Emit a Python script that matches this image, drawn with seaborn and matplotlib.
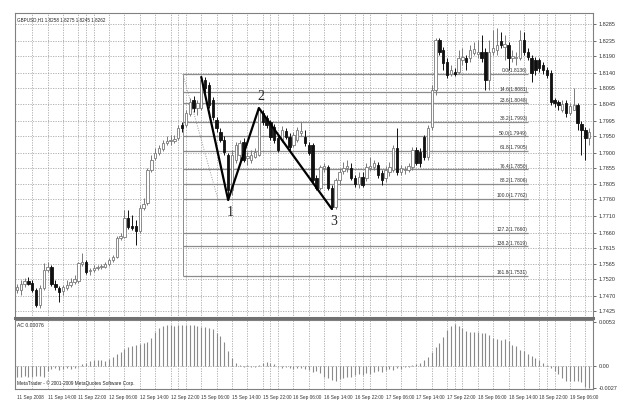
import numpy as np
import pandas as pd
import matplotlib.pyplot as plt
import seaborn as sns

# GBPUSD H1 candles
opens = [1.7488, 1.7488, 1.7506, 1.7515, 1.7509, 1.7488, 1.7443, 1.7494, 1.7548, 1.7557,
         1.7506, 1.7494, 1.7485, 1.7494, 1.7503, 1.7512, 1.7515, 1.7566, 1.7572, 1.7545,
         1.7548, 1.7554, 1.7557, 1.7557, 1.7566, 1.7578, 1.7587, 1.7644, 1.7647, 1.7704,
         1.7680, 1.7680, 1.7665, 1.7734, 1.7749, 1.7848, 1.7884, 1.7899, 1.7911, 1.7929,
         1.7935, 1.7935, 1.7944, 1.7983, 1.7983, 1.8016, 1.8058, 1.8034, 1.8034, 1.8118,
         1.8103, 1.8058, 1.7998, 1.7962, 1.7938, 1.7893, 1.7788, 1.7878, 1.7893, 1.7932,
         1.7884, 1.7878, 1.7887, 1.7893, 1.8019, 1.8004, 1.7992, 1.7977, 1.7944, 1.7938,
         1.7965, 1.7947, 1.7923, 1.7938, 1.7959, 1.7947, 1.7923, 1.7923, 1.7824, 1.7794,
         1.7854, 1.7857, 1.7794, 1.7737, 1.7818, 1.7845, 1.7854, 1.7854, 1.7824, 1.7806,
         1.7827, 1.7824, 1.7854, 1.7857, 1.7863, 1.7839, 1.7824, 1.7842, 1.7848, 1.7914,
         1.7842, 1.7848, 1.7848, 1.7857, 1.7908, 1.7902, 1.7947, 1.7887, 1.7977, 1.8088,
         1.8238, 1.8208, 1.8172, 1.8136, 1.8142, 1.8142, 1.8178, 1.8184, 1.8184, 1.8199,
         1.8196, 1.8202, 1.8202, 1.8118, 1.8202, 1.8208, 1.8235, 1.8217, 1.8223, 1.8184,
         1.8184, 1.8184, 1.8238, 1.8202, 1.8184, 1.8178, 1.8178, 1.8163, 1.8148, 1.8139,
         1.8058, 1.8052, 1.8028, 1.8049, 1.8019, 1.8028, 1.8043, 1.7986, 1.7968, 1.7944]
highs = [1.7506, 1.7518, 1.7524, 1.7527, 1.7518, 1.7494, 1.7503, 1.7569, 1.7572, 1.7563,
         1.7518, 1.7500, 1.7503, 1.7518, 1.7524, 1.7533, 1.7572, 1.7599, 1.7578, 1.7554,
         1.7563, 1.7563, 1.7566, 1.7572, 1.7584, 1.7593, 1.7650, 1.7659, 1.7728, 1.7728,
         1.7713, 1.7698, 1.7743, 1.7764, 1.7854, 1.7893, 1.7914, 1.7923, 1.7938, 1.7950,
         1.7953, 1.7953, 1.7983, 1.7992, 1.8028, 1.8064, 1.8070, 1.8058, 1.8127, 1.8127,
         1.8112, 1.8067, 1.8007, 1.7974, 1.7950, 1.7899, 1.7908, 1.7932, 1.7938, 1.7944,
         1.7902, 1.7908, 1.7914, 1.8034, 1.8028, 1.8013, 1.7998, 1.7986, 1.7953, 1.7980,
         1.7974, 1.7959, 1.7962, 1.7977, 1.7992, 1.7968, 1.7932, 1.7929, 1.7833, 1.7863,
         1.7869, 1.7863, 1.7803, 1.7824, 1.7854, 1.7872, 1.7878, 1.7869, 1.7833, 1.7842,
         1.7842, 1.7869, 1.7887, 1.7878, 1.7872, 1.7848, 1.7860, 1.7872, 1.7923, 1.7974,
         1.7863, 1.7860, 1.7869, 1.7917, 1.7917, 1.7914, 1.7953, 1.7983, 1.8103, 1.8244,
         1.8244, 1.8217, 1.8184, 1.8163, 1.8154, 1.8208, 1.8214, 1.8193, 1.8223, 1.8232,
         1.8238, 1.8253, 1.8214, 1.8238, 1.8268, 1.8274, 1.8262, 1.8253, 1.8232, 1.8208,
         1.8202, 1.8268, 1.8262, 1.8214, 1.8193, 1.8187, 1.8184, 1.8172, 1.8157, 1.8148,
         1.8064, 1.8058, 1.8058, 1.8058, 1.8049, 1.8094, 1.8049, 1.7995, 1.7977, 1.7974]
lows = [1.7479, 1.7473, 1.7497, 1.7503, 1.7482, 1.7437, 1.7434, 1.7488, 1.7542, 1.7500,
        1.7488, 1.7452, 1.7473, 1.7488, 1.7497, 1.7506, 1.7509, 1.7560, 1.7536, 1.7533,
        1.7542, 1.7548, 1.7551, 1.7554, 1.7560, 1.7572, 1.7584, 1.7638, 1.7644, 1.7671,
        1.7668, 1.7623, 1.7659, 1.7728, 1.7743, 1.7842, 1.7878, 1.7893, 1.7905, 1.7923,
        1.7923, 1.7929, 1.7938, 1.7962, 1.7977, 1.8010, 1.8022, 1.8013, 1.8028, 1.8082,
        1.8034, 1.7998, 1.7962, 1.7932, 1.7893, 1.7758, 1.7773, 1.7869, 1.7878, 1.7872,
        1.7863, 1.7869, 1.7884, 1.7890, 1.7983, 1.7974, 1.7938, 1.7929, 1.7902, 1.7932,
        1.7941, 1.7908, 1.7917, 1.7932, 1.7950, 1.7920, 1.7893, 1.7812, 1.7788, 1.7788,
        1.7842, 1.7788, 1.7731, 1.7731, 1.7803, 1.7836, 1.7842, 1.7818, 1.7797, 1.7794,
        1.7797, 1.7815, 1.7845, 1.7848, 1.7824, 1.7803, 1.7812, 1.7830, 1.7842, 1.7833,
        1.7833, 1.7836, 1.7842, 1.7848, 1.7863, 1.7857, 1.7878, 1.7878, 1.7968, 1.8073,
        1.8193, 1.8148, 1.8124, 1.8130, 1.8130, 1.8136, 1.8163, 1.8148, 1.8172, 1.8193,
        1.8184, 1.8172, 1.8088, 1.8088, 1.8193, 1.8193, 1.8214, 1.8178, 1.8148, 1.8172,
        1.8163, 1.8178, 1.8193, 1.8178, 1.8112, 1.8133, 1.8142, 1.8136, 1.8124, 1.8043,
        1.8037, 1.8028, 1.8022, 1.8007, 1.8013, 1.8028, 1.7968, 1.7893, 1.7878, 1.7923]
closes = [1.7497, 1.7506, 1.7515, 1.7506, 1.7488, 1.7443, 1.7494, 1.7548, 1.7557, 1.7506,
          1.7497, 1.7482, 1.7497, 1.7503, 1.7512, 1.7521, 1.7569, 1.7572, 1.7542, 1.7548,
          1.7554, 1.7557, 1.7560, 1.7566, 1.7578, 1.7587, 1.7644, 1.7650, 1.7704, 1.7677,
          1.7674, 1.7665, 1.7734, 1.7746, 1.7848, 1.7878, 1.7899, 1.7914, 1.7929, 1.7935,
          1.7938, 1.7941, 1.7974, 1.7974, 1.8019, 1.8052, 1.8034, 1.8049, 1.8118, 1.8094,
          1.8043, 1.8007, 1.7974, 1.7938, 1.7902, 1.7788, 1.7893, 1.7923, 1.7929, 1.7878,
          1.7890, 1.7893, 1.7902, 1.8028, 1.7992, 1.7983, 1.7947, 1.7938, 1.7908, 1.7968,
          1.7947, 1.7917, 1.7953, 1.7968, 1.7965, 1.7929, 1.7899, 1.7818, 1.7794, 1.7857,
          1.7860, 1.7794, 1.7737, 1.7818, 1.7842, 1.7854, 1.7860, 1.7824, 1.7806, 1.7827,
          1.7803, 1.7857, 1.7860, 1.7869, 1.7833, 1.7818, 1.7848, 1.7857, 1.7914, 1.7842,
          1.7854, 1.7851, 1.7860, 1.7908, 1.7869, 1.7869, 1.7887, 1.7974, 1.8088, 1.8238,
          1.8202, 1.8169, 1.8133, 1.8148, 1.8136, 1.8184, 1.8187, 1.8172, 1.8208, 1.8211,
          1.8202, 1.8184, 1.8118, 1.8202, 1.8214, 1.8223, 1.8223, 1.8226, 1.8184, 1.8190,
          1.8187, 1.8238, 1.8202, 1.8187, 1.8139, 1.8148, 1.8154, 1.8148, 1.8133, 1.8052,
          1.8049, 1.8043, 1.8046, 1.8019, 1.8040, 1.8043, 1.7989, 1.7968, 1.7944, 1.7962]

# Accelerator Oscillator histogram
ac_values = [-0.00132, -0.00132, -0.0012, -0.00132, -0.00132, -0.0012, -0.0012, -0.00132, -0.0006, -0.00036,
             -0.00024, -0.00048, -0.00036, -0.00024, -0.00036, -0.00024, -0.00012, 0.00024, 0.00036, 0.0006,
             0.00072, 0.00072, 0.00072, 0.0006, 0.00084, 0.00108, 0.00144, 0.00168, 0.00204, 0.00228,
             0.0024, 0.00252, 0.00264, 0.00276, 0.00288, 0.00336, 0.00408, 0.00468, 0.00492, 0.00504,
             0.00504, 0.00492, 0.00504, 0.00504, 0.00504, 0.00504, 0.00504, 0.00492, 0.0048, 0.0048,
             0.00468, 0.00444, 0.00396, 0.0036, 0.00288, 0.0018, 0.00096, 0.00036, 0.00012, -0.00012,
             0.00012, -0.00012, -0.00012, 0.00012, 0.00036, 0.00048, 0.00036, 0.00024, -0.00012, -0.00024,
             -0.00012, -0.00024, -0.00036, -0.00024, -0.00024, -0.00036, -0.00048, -0.00072, -0.0006, -0.00084,
             -0.00132, -0.00156, -0.0018, -0.00192, -0.00168, -0.00156, -0.00144, -0.00132, -0.00108, -0.00096,
             -0.00108, -0.00084, -0.00096, -0.00072, -0.0006, -0.00072, -0.00048, -0.00036, -0.00048, -0.00024,
             -0.00036, -0.00012, -0.00012, 0.00012, 0.00024, 0.00036, 0.00072, 0.00108, 0.00168, 0.00228,
             0.00276, 0.00348, 0.00432, 0.00492, 0.00516, 0.00492, 0.00456, 0.0042, 0.00408, 0.00408,
             0.00408, 0.00396, 0.00396, 0.00372, 0.00336, 0.00324, 0.00312, 0.00324, 0.003, 0.00252,
             0.0024, 0.00192, 0.0018, 0.00144, 0.0012, 0.00096, 0.00072, 0.00036, 0.00012, -0.00024,
             -0.0006, -0.00096, -0.00156, -0.00192, -0.00192, -0.00192, -0.00192, -0.00204, -0.00264, -0.00276]

time_labels = ["11 Sep 2008", "11 Sep 14:00", "11 Sep 22:00", "12 Sep 06:00", "12 Sep 14:00",
               "12 Sep 22:00", "15 Sep 06:00", "15 Sep 14:00", "15 Sep 22:00", "16 Sep 06:00",
               "16 Sep 14:00", "16 Sep 22:00", "17 Sep 06:00", "17 Sep 14:00", "17 Sep 22:00",
               "18 Sep 06:00", "18 Sep 14:00", "18 Sep 22:00", "19 Sep 06:00"]
price_ticks = [1.8285, 1.8235, 1.8190, 1.8140, 1.8095, 1.8045, 1.7995, 1.7950, 1.7900, 1.7855,
               1.7805, 1.7760, 1.7710, 1.7660, 1.7615, 1.7565, 1.7520, 1.7470, 1.7425]
ac_ticks = [0.0053, 0.0, -0.0027]
ac_tick_labels = ["0.0053", "0.00", "-0.0027"]

# Fibonacci retracement (0 at swing high, 100 at swing low)
fib_levels = [0.0, 14.6, 23.6, 38.2, 50.0, 61.8, 76.4, 88.2, 100.0, 127.2, 138.2, 161.8]
fib_high = 1.8136
fib_low = 1.7762
fib_start_bar = 43.2
fib_end_bar = 133
fib_trend_bars = [43.2, 52.3]

# Wave points 1-2-3
wave_bars = [48, 55, 63, 82]
wave_prices = [1.8127, 1.7758, 1.8034, 1.7731]
wave_names = ["", "1", "2", "3"]

df = pd.DataFrame({"open": opens, "high": highs, "low": lows, "close": closes})
df["bar"] = np.arange(len(df))
df["bull"] = df["close"] >= df["open"]

sns.set_style("white")
plt.rcParams['font.family'] = ['Liberation Sans', 'DejaVu Sans']

fig = plt.figure(figsize=(6.26, 4.03), dpi=100)
ax = fig.add_axes([15/626, 85/403, 578/626, 305/403])
ax2 = fig.add_axes([15/626, 14/403, 578/626, 69/403], sharex=ax)

grid_kw = dict(color='#a8a8a8', lw=0.6, ls=(0, (1.5, 1.5)), zorder=0)
grid_bars = list(range(4, 150, 4)) + [18, 42, 66, 90, 114, 138]
for a in (ax, ax2):
    for b in grid_bars:
        a.axvline(b, **grid_kw)
for p in price_ticks:
    ax.axhline(p, **grid_kw)
ax2.axhline(0, **grid_kw)

# Fibonacci lines
fib_prices = [fib_high - lv / 100 * (fib_high - fib_low) for lv in fib_levels]
for lv, fp in zip(fib_levels, fib_prices):
    ax.hlines(fp, fib_start_bar, fib_end_bar, color='#8c8c8c', lw=0.9, zorder=1)
    ax.text(fib_end_bar, fp + 0.0002, f"{lv:.1f}({fp:.4f})", fontsize=3.6,
            ha='right', va='bottom', color='#333333', zorder=5)
ax.vlines(fib_start_bar, min(fib_prices), max(fib_prices), color='#8c8c8c', lw=0.7, zorder=1)
ax.plot(fib_trend_bars, [fib_high, fib_low], color='#9a9a9a', lw=0.7, ls=(0, (1, 1.5)), zorder=1)

# candles
bull = df[df["bull"]]
bear = df[~df["bull"]]
ax.vlines(bull["bar"], bull["low"], bull["high"], color='#7a7a7a', lw=0.7, zorder=2)
ax.vlines(bear["bar"], bear["low"], bear["high"], color='#111111', lw=0.7, zorder=2)
body_h = (df["close"] - df["open"]).abs().clip(lower=0.00008)
body_b = df[["open", "close"]].min(axis=1)
ax.bar(bull["bar"], body_h[df["bull"]], bottom=body_b[df["bull"]], width=0.62,
       color='white', edgecolor='#7a7a7a', linewidth=0.6, zorder=3)
ax.bar(bear["bar"], body_h[~df["bull"]], bottom=body_b[~df["bull"]], width=0.62,
       color='#111111', edgecolor='#111111', linewidth=0.6, zorder=3)

# wave lines
wave = pd.DataFrame({"bar": wave_bars, "price": wave_prices})
sns.lineplot(data=wave, x="bar", y="price", ax=ax, color='black', lw=1.6, sort=False,
             estimator=None, zorder=4)
offsets = [0, -0.0038, 0.0033, -0.0038]
for b, p, n, off in zip(wave_bars, wave_prices, wave_names, offsets):
    if n:
        ax.text(b + 0.5, p + off, n, fontsize=10, family='Liberation Serif',
                ha='center', va='center', zorder=6)

ax.text(0.004, 0.985, "GBPUSD,H1 1.8258 1.8275 1.8245 1.8262", transform=ax.transAxes,
        fontsize=3.3, va='top', ha='left', color='#222222')

ax.set_xlim(-0.5, 150)
ax.set_ylim(1.7404, 1.8319)
ax.yaxis.tick_right()
ax.set_yticks(price_ticks)
ax.set_yticklabels([f"{p:.4f}" for p in price_ticks])
ax.tick_params(axis='y', labelsize=4.0, length=2, pad=2, colors='#333333', width=0.5)
ax.tick_params(axis='x', labelbottom=False, length=0)
ax.set_xlabel("")
ax.set_ylabel("")

# AC panel
ax2.vlines(df["bar"], 0, ac_values, color='#8a8a8a', lw=0.8, zorder=2)
ax2.set_ylim(-0.00285, 0.0056)
ax2.yaxis.tick_right()
ax2.set_yticks(ac_ticks)
ax2.set_yticklabels(ac_tick_labels)
ax2.tick_params(axis='y', labelsize=4.0, length=2, pad=2, colors='#333333', width=0.5)
ax2.set_xticks(range(0, 150, 8))
ax2.set_xticklabels(time_labels, ha='left')
ax2.tick_params(axis='x', labelsize=3.4, length=2, pad=2, colors='#333333', width=0.5)
ax2.text(0.004, 0.95, "AC 0.00076", transform=ax2.transAxes, fontsize=3.6,
         va='top', ha='left', color='#222222')
ax2.text(0.004, 0.04, "MetaTrader - \u00a9 2001-2009 MetaQuotes Software Corp.",
         transform=ax2.transAxes, fontsize=3.4, va='bottom', ha='left', color='#222222')

for a in (ax, ax2):
    for s in a.spines.values():
        s.set_color('#808080')
        s.set_linewidth(0.8)
ax.spines['bottom'].set_linewidth(2.2)
ax.spines['bottom'].set_color('#707070')

fig.savefig("out.png", dpi=100, facecolor='white')
